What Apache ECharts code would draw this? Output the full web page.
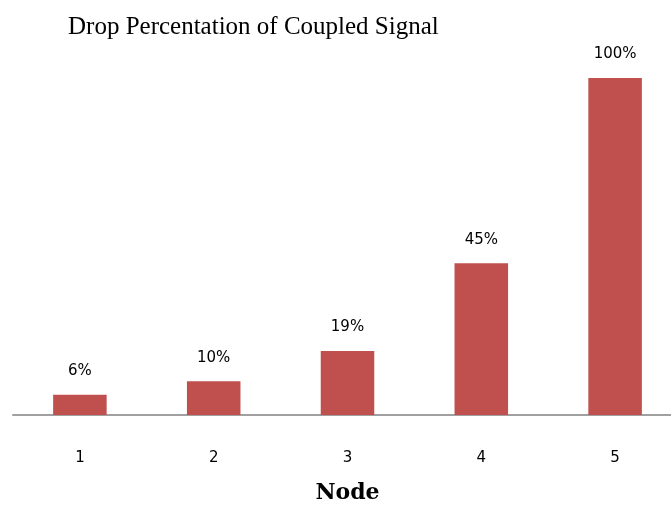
<!DOCTYPE html>
<html>
<head>
<meta charset="utf-8">
<script src="https://cdn.jsdelivr.net/npm/echarts@6/dist/echarts.min.js"></script>
<style>
  html, body { margin: 0; padding: 0; background: #fff; }
  #chart { width: 671px; height: 507px; }
</style>
</head>
<body>
<div id="chart"></div>
<script>
const nodes = ['1', '2', '3', '4', '5']
const dropPercent = [6, 10, 19, 45, 100]

const chart = echarts.init(document.getElementById('chart'))

const option = {
  animation: false,
  title: {
    text: 'Drop Percentation of Coupled Signal',
    left: 63,
    top: 10,
    textStyle: {
      fontFamily: 'Liberation Serif',
      fontWeight: 'normal',
      fontSize: 25,
      color: '#000',
    },
  },
  grid: { left: 13, right: -11, top: 78, bottom: 92, outerBoundsMode: 'none', containLabel: false },
  xAxis: {
    type: 'category',
    data: nodes,
    name: 'Node',
    nameLocation: 'middle',
    nameGap: 67,
    nameTextStyle: {
      fontFamily: 'DejaVu Serif',
      fontWeight: 'bold',
      fontSize: 22,
      color: '#000',
    },
    axisLine: { lineStyle: { color: '#a0a0a0', width: 2 } },
    axisTick: { show: false },
    axisLabel: {
      margin: 36,
      fontFamily: 'DejaVu Sans',
      fontSize: 15,
      color: '#000',
    },
  },
  yAxis: {
    type: 'value',
    min: 0,
    max: 100,
    show: false,
  },
  series: [
    {
      type: 'bar',
      data: dropPercent,
      barWidth: '40%',
      itemStyle: { color: '#c0504d' },
      label: {
        show: true,
        position: 'top',
        distance: 16,
        formatter: '{c}%',
        fontFamily: 'DejaVu Sans',
        fontSize: 15,
        color: '#000',
      },
    },
  ],
}

chart.setOption(option)
</script>
</body>
</html>
